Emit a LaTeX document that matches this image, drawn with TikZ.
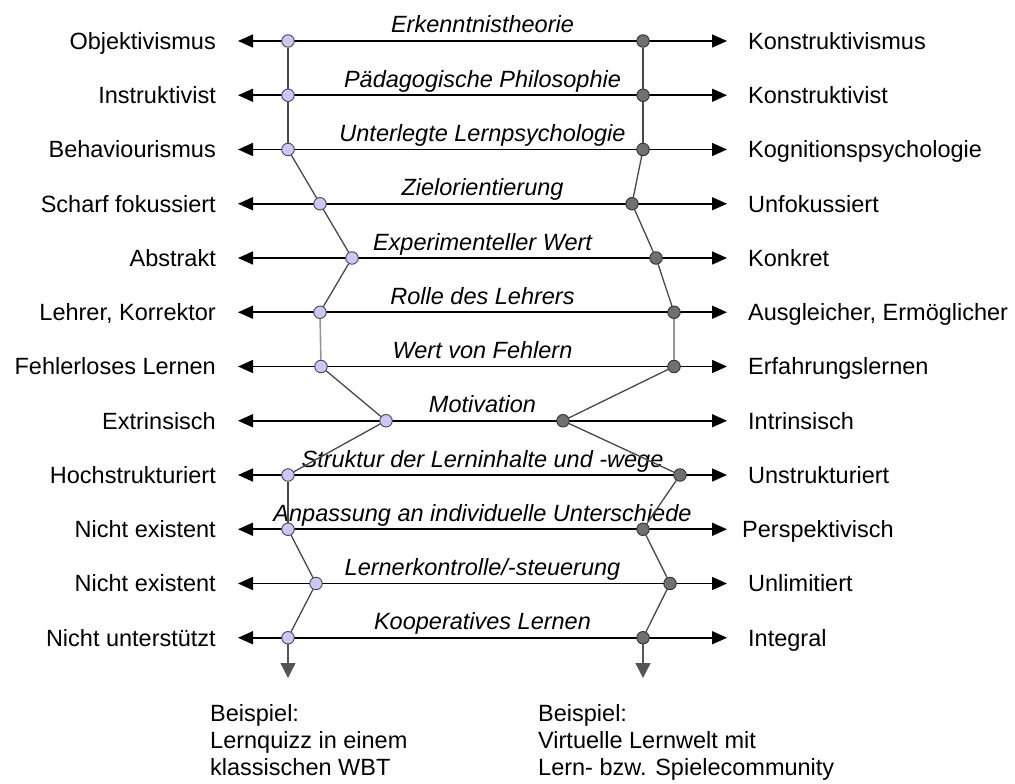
\documentclass[tikz,border=0pt]{standalone}
\usepackage{fontspec}
\setmainfont{Liberation Sans}
\usetikzlibrary{arrows.meta}

\definecolor{lowfill}{RGB}{200,200,255}
\definecolor{highfill}{RGB}{112,112,112}
\definecolor{linkgray}{RGB}{72,72,72}
\definecolor{palegray}{RGB}{150,150,150}
\definecolor{tipgray}{RGB}{85,85,85}

\tikzset{
  axisline/.style={line width=1.6pt, black,
    {Triangle[length=15pt,width=13pt]}-{Triangle[length=15pt,width=13pt]}},
  lowpt/.style={circle, draw=linkgray, fill=lowfill, line width=0.9pt,
    minimum size=12.5pt, inner sep=0pt},
  highpt/.style={circle, draw=black!80, fill=highfill, line width=0.9pt,
    minimum size=12.5pt, inner sep=0pt},
  poletext/.style={font=\fontsize{23.5}{27}\selectfont, inner sep=0pt},
  dimtext/.style={font=\fontsize{23.5}{27}\selectfont\itshape, inner sep=0pt, anchor=base},
  link/.style={linkgray, line width=1.3pt},
  palelink/.style={palegray, line width=1.6pt},
  downlink/.style={tipgray, line width=1.3pt, -{Triangle[length=15pt,width=15pt]}}
}

\begin{document}
\begin{tikzpicture}[x=1pt, y=-1pt]
  \useasboundingbox (0,0) rectangle (1015,784);

  % one row per dimension: left pole, right pole, dimension name,
  % profile positions and a small shift of the right pole text
  \foreach \i/\lx/\rx/\lt/\rt/\mt/\rdx in {
      1/288/643/Objektivismus/Konstruktivismus/Erkenntnistheorie/0,
      2/288/643/Instruktivist/Konstruktivist/Pädagogische Philosophie/0,
      3/288/643/Behaviourismus/Kognitionspsychologie/Unterlegte Lernpsychologie/0,
      4/320/632/Scharf fokussiert/Unfokussiert/Zielorientierung/0,
      5/352/656/Abstrakt/Konkret/Experimenteller Wert/0,
      6/320/674/{Lehrer, Korrektor}/{Ausgleicher, Ermöglicher}/Rolle des Lehrers/0,
      7/321/674/Fehlerloses Lernen/Erfahrungslernen/Wert von Fehlern/0,
      8/386/563/Extrinsisch/Intrinsisch/Motivation/0,
      9/288/680/Hochstrukturiert/Unstrukturiert/Struktur der Lerninhalte und -wege/0,
      10/288/643/Nicht existent/Perspektivisch/Anpassung an individuelle Unterschiede/-6,
      11/316/670/Nicht existent/Unlimitiert/{Lernerkontrolle/-steuerung}/0,
      12/288/643/Nicht unterstützt/Integral/Kooperatives Lernen/0} {
    \pgfmathsetmacro\y{41+54.25*(\i-1)}
    \coordinate (aL\i) at (238,\y);
    \coordinate (aR\i) at (727,\y);
    \draw[axisline] (aL\i) -- (aR\i);
    \node[poletext, anchor=base east] (tL\i) at (216,\y+8.4) {\lt};
    \node[poletext, anchor=base west] (tR\i) at (748+\rdx,\y+8.4) {\rt};
    \node[dimtext] (tM\i) at (482.5,\y-8) {\mt};
    \node[lowpt] (pL\i) at (\lx,\y) {};
    \node[highpt] (pR\i) at (\rx,\y) {};
  }

  % profile lines joining the positions of the two examples
  \foreach \i [evaluate=\i as \j using int(\i+1)] in {1,2,3,4,5,7,8,9,10,11} {
    \draw[link] (pL\i) -- (pL\j);
    \draw[link] (pR\i) -- (pR\j);
  }
  \draw[palelink] (pL6) -- (pL7);
  \draw[palelink] (pR6) -- (pR7);

  % arrows pointing down to the examples
  \coordinate (eL) at (288,678);
  \coordinate (eR) at (643,678);
  \draw[downlink] (pL12) -- (eL);
  \draw[downlink] (pR12) -- (eR);

  % example descriptions
  \node[poletext, anchor=base west] (xL1) at (210,721) {Beispiel:};
  \node[poletext, anchor=base west] (xL2) at (210,748) {Lernquizz in einem};
  \node[poletext, anchor=base west] (xL3) at (210,775) {klassischen WBT};
  \node[poletext, anchor=base west] (xR1) at (538,721) {Beispiel:};
  \node[poletext, anchor=base west] (xR2) at (538,748) {Virtuelle Lernwelt mit};
  \node[poletext, anchor=base west] (xR3) at (538,775) {Lern- bzw. Spielecommunity};
\end{tikzpicture}
\end{document}
